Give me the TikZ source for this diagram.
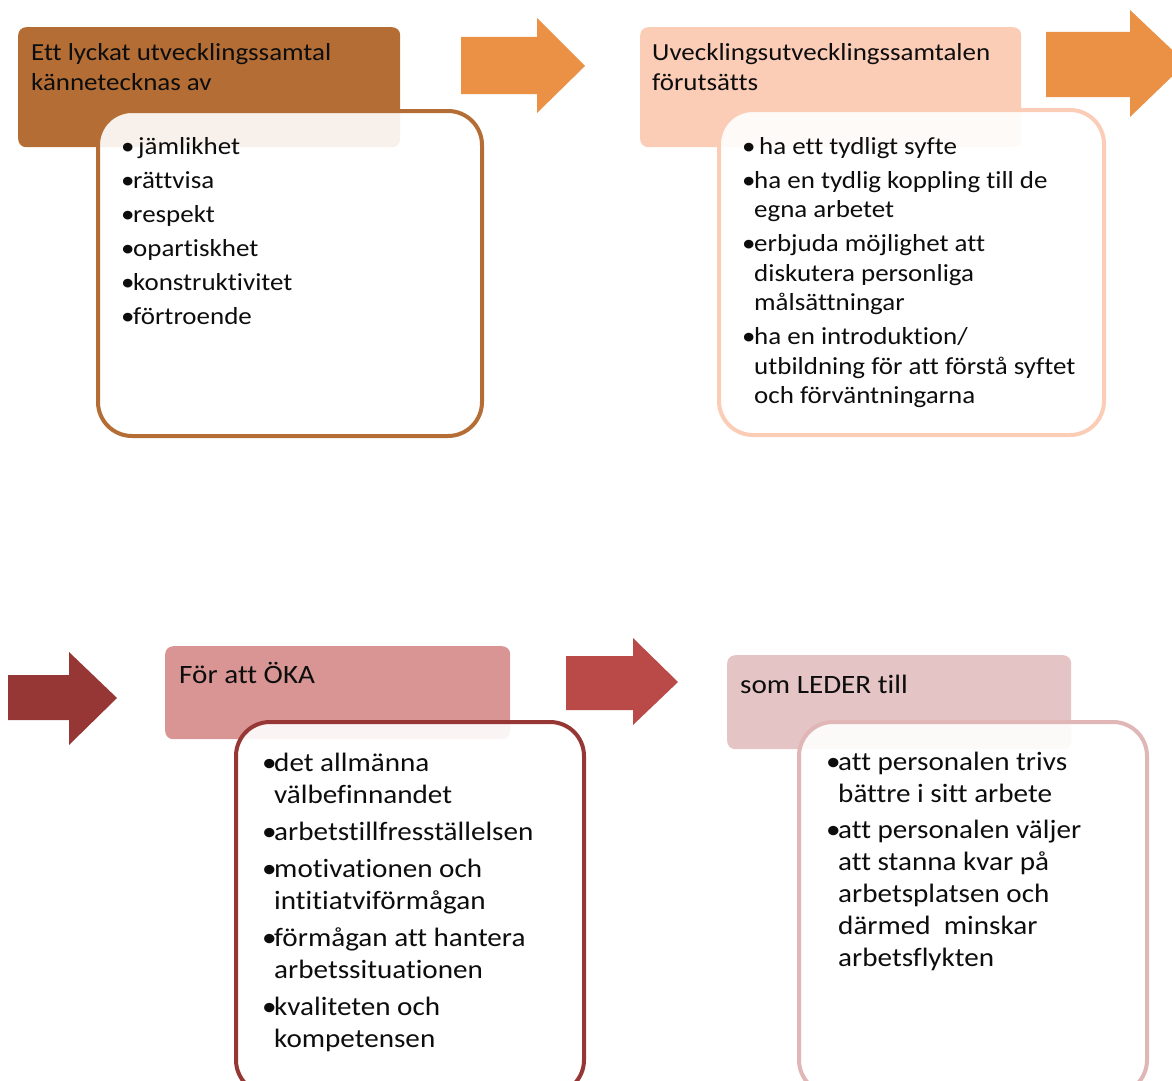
\documentclass[tikz,border=0pt]{standalone}
\usepackage{fontspec}
\setmainfont{Carlito}[FakeStretch=1.1, Ligatures=NoCommon]
\usepackage{array}

\definecolor{hdrA}{HTML}{B46E35}
\definecolor{arrA}{HTML}{EB9145}
\definecolor{hdrB}{HTML}{FBCDB7}
\definecolor{arrC}{HTML}{963735}
\definecolor{hdrC}{HTML}{D99594}
\definecolor{arrD}{HTML}{B94A48}
\definecolor{hdrD}{HTML}{E5C4C5}
\definecolor{lineD}{HTML}{E0B6B6}
\definecolor{ink}{HTML}{0D0D0D}

% bullet in a fixed-width cell, then the item text
\newcommand{\bul}{\makebox[12pt][l]{\textbullet}}

\begin{document}
\begin{tikzpicture}[x=1pt,y=-1pt,
  hdrbox/.style={rectangle, rounded corners=8pt, draw=none, inner sep=0pt, anchor=north west},
  bodybox/.style={rectangle, rounded corners=34pt, line width=4pt, fill=white, fill opacity=0.9, inner sep=0pt, anchor=north west},
  txt/.style={inner sep=0pt, anchor=base west, text=ink},
  topfont/.style={font=\fontsize{24.5}{29.5}\selectfont},
  lowfont/.style={font=\fontsize{26.5}{32}\selectfont}
]
\useasboundingbox (0,0) rectangle (1172,1081);

% ---------- block 1 ----------
\node[hdrbox, fill=hdrA, minimum width=382pt, minimum height=120pt] (h1) at (18,27) {};
\node[bodybox, draw=hdrA, minimum width=384pt, minimum height=325pt] (b1) at (96,109) {};
\node[txt, topfont] (h1t) at (31,61) {\begin{tabular}[t]{@{}l@{}}Ett lyckat utvecklingssamtal\\kännetecknas av\end{tabular}};
\node[txt, topfont] (b1t) at (121,154) {\begin{tabular}[t]{@{}l@{}l@{}}
\bul & \hspace{5pt}jämlikhet\\[4.5pt]
\bul & rättvisa\\[4.5pt]
\bul & respekt\\[4.5pt]
\bul & opartiskhet\\[4.5pt]
\bul & konstruktivitet\\[4.5pt]
\bul & förtroende
\end{tabular}};

% arrow from block 1 to block 2
\fill[arrA] (461,37) -- (537,37) -- (537,18) -- (585,66) -- (537,113) -- (537,94) -- (461,94) -- cycle;

% ---------- block 2 ----------
\node[hdrbox, fill=hdrB, minimum width=381pt, minimum height=120pt] (h2) at (640,27) {};
\node[bodybox, draw=hdrB, minimum width=385pt, minimum height=325pt] (b2) at (717,108) {};
\node[txt, topfont] (h2t) at (652,61) {\begin{tabular}[t]{@{}l@{}}Uvecklingsutvecklingssamtalen\\förutsätts\end{tabular}};
\node[txt, topfont] (b2t) at (742,154) {\begin{tabular}[t]{@{}l@{}l@{}}
\bul & \hspace{5pt}ha ett tydligt syfte\\[4.5pt]
\bul & ha en tydlig koppling till de\\
 & egna arbetet\\[4.5pt]
\bul & erbjuda möjlighet att\\
 & diskutera personliga\\
 & målsättningar\\[4.5pt]
\bul & ha en introduktion/\\
 & utbildning för att förstå syftet\\
 & och förväntningarna
\end{tabular}};

% arrow leaving block 2
\fill[arrA] (1046,32) -- (1130,32) -- (1130,10) -- (1186,63) -- (1130,117) -- (1130,97) -- (1046,97) -- cycle;

% arrow entering block 3
\fill[arrC] (8,675) -- (69,675) -- (69,652) -- (117,698) -- (69,745) -- (69,720) -- (8,720) -- cycle;

% ---------- block 3 ----------
\node[hdrbox, fill=hdrC, minimum width=345pt, minimum height=93pt] (h3) at (165,646) {};
\node[bodybox, draw=arrC, minimum width=348pt, minimum height=372pt] (b3) at (234,720) {};
\node[txt, lowfont] (h3t) at (179,683) {För att ÖKA};
\node[txt, lowfont] (b3t) at (262,771) {\begin{tabular}[t]{@{}l@{}l@{}}
\bul & det allmänna\\
 & välbefinnandet\\[5pt]
\bul & arbetstillfresställelsen\\[5pt]
\bul & motivationen och\\
 & intitiatviförmågan\\[5pt]
\bul & förmågan att hantera\\
 & arbetssituationen\\[5pt]
\bul & kvaliteten och\\
 & kompetensen
\end{tabular}};

% arrow from block 3 to block 4
\fill[arrD] (566,656) -- (633,656) -- (633,638) -- (678,682) -- (633,725) -- (633,710) -- (566,710) -- cycle;

% ---------- block 4 ----------
\node[hdrbox, fill=hdrD, minimum width=344pt, minimum height=94pt] (h4) at (727,655) {};
\node[bodybox, draw=lineD, minimum width=348pt, minimum height=372pt] (b4) at (797,720) {};
\node[txt, lowfont] (h4t) at (740,693) {som LEDER till};
\node[txt, lowfont] (b4t) at (826,770) {\begin{tabular}[t]{@{}l@{}l@{}}
\bul & att personalen trivs\\
 & bättre i sitt arbete\\[4pt]
\bul & att personalen väljer\\
 & att stanna kvar på\\
 & arbetsplatsen och\\
 & därmed\ \ minskar\\
 & arbetsflykten
\end{tabular}};
\end{tikzpicture}
\end{document}
